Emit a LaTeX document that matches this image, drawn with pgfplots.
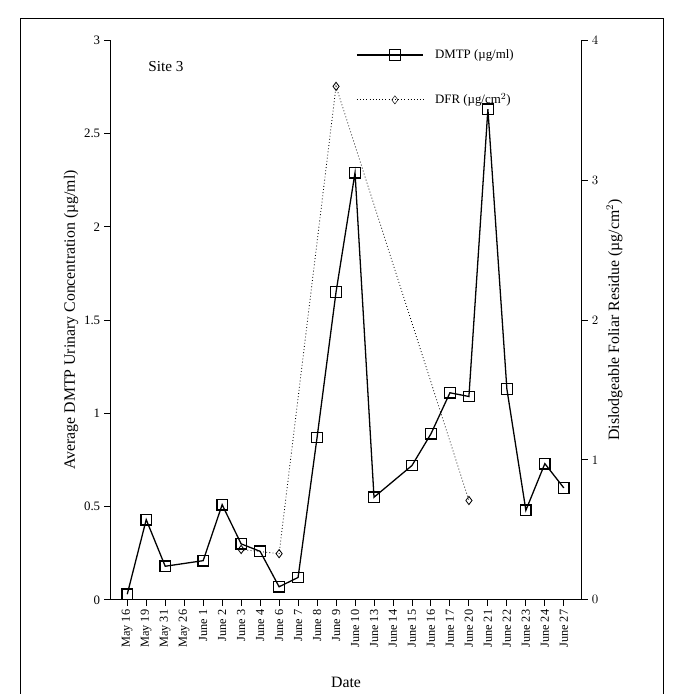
\documentclass[border=0pt]{standalone}
\usepackage{pgfplots}
\pgfplotsset{compat=1.18}
\usepackage{fontspec}
\setmainfont{Liberation Serif}
\begin{document}
\begin{tikzpicture}[x=0.03cm,y=-0.03cm]
\draw[white] (0,0) rectangle (682,695);
\draw[line width=0.8pt] (20,694) -- (20,18) -- (664,18) -- (664,694);
\begin{scope}[shift={(110,600)}]
\pgfplotsset{every axis/.style={at={(0,0)},anchor=south west,scale only axis,width=14.16cm,height=16.8cm,
 xmin=-0.9,xmax=23.95, axis line style={line width=0.8pt}, tick style={black,line width=0.8pt},
 tick align=outside, major tick length=5pt, font=\fontsize{11}{13}\selectfont}}
\begin{axis}[axis y line*=left, axis x line*=bottom, ymin=0,ymax=3, ytick={0,0.5,1,1.5,2,2.5,3},
 yticklabels={0,0.5,1,1.5,2,2.5,3},
 xtick={0,...,23}, xticklabels={May 16,May 19,May 31,May 26,June 1,June 2,June 3,June 4,June 6,June 7,June 8,June 9,June 10,June 13,June 14,June 15,June 16,June 17,June 20,June 21,June 22,June 23,June 24,June 27},
 xticklabel style={rotate=90,anchor=east,font=\fontsize{10.5}{12}\selectfont},
 ylabel={Average DMTP Urinary Concentration (\textmu g/ml)}, ylabel style={font=\fontsize{13.5}{16}\selectfont,yshift=-2pt},
 xlabel={Date}, xlabel style={font=\fontsize{13.5}{16}\selectfont,yshift=-18pt}]
\addplot[black,line width=1.1pt,mark=square,mark size=4.5pt,mark options={solid,fill=white}] coordinates {
(0,0.03)(1,0.43)(2,0.18)(4,0.21)(5,0.51)(6,0.3)(7,0.26)(8,0.07)(9,0.12)(10,0.87)(11,1.65)(12,2.29)(13,0.55)(15,0.72)(16,0.89)(17,1.11)(18,1.09)(19,2.63)(20,1.13)(21,0.48)(22,0.73)(23,0.6)};
\node[anchor=west,font=\fontsize{13}{15}\selectfont] at (axis cs:0.9,2.86) {Site 3};
\draw[black,line width=1.1pt] (axis cs:12.1,2.92) -- (axis cs:15.6,2.92);
\addplot[black,line width=1.1pt,mark=square,mark size=4.5pt,mark options={fill=white},forget plot] coordinates {(14.1,2.92)};
\node[anchor=west] at (axis cs:16.0,2.92) {DMTP (\textmu g/ml)};
\draw[black,dotted,line width=0.7pt] (axis cs:12.1,2.68) -- (axis cs:15.6,2.68);
\addplot[black,mark=diamond,mark size=3.5pt,mark options={solid,fill=white},forget plot] coordinates {(14.1,2.68)};
\node[anchor=west] at (axis cs:16.0,2.68) {DFR (\textmu g/cm$^2$)};
\end{axis}
\begin{axis}[axis y line*=right, axis x line=none, ymin=0,ymax=4, ytick={0,1,2,3,4},
 ylabel={Dislodgeable Foliar Residue (\textmu g/cm$^2$)}, ylabel style={font=\fontsize{13.5}{16}\selectfont}]
\addplot[black,dotted,line width=0.7pt,mark=diamond,mark size=3.5pt,mark options={solid,fill=white}] coordinates {
(6,0.36)(8,0.33)(11,3.67)(18,0.71)};
\end{axis}
\end{scope}
\end{tikzpicture}
\end{document}
